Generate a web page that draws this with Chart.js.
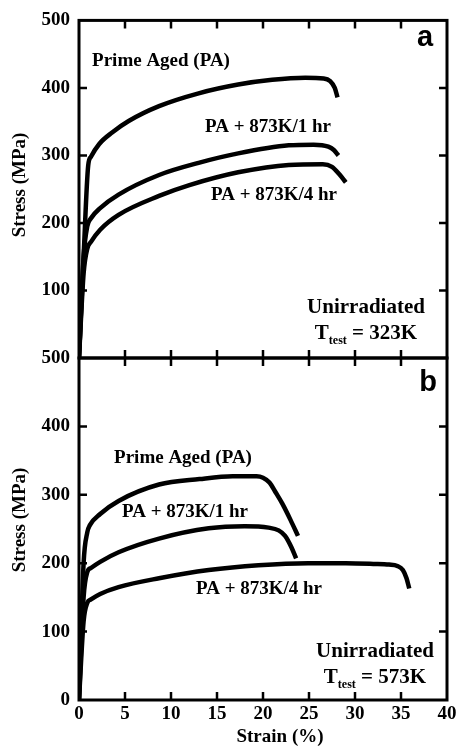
<!DOCTYPE html>
<html>
<head>
<meta charset="utf-8">
<script src="https://cdn.jsdelivr.net/npm/chart.js@4.4.1/dist/chart.umd.min.js"></script>
<style>
  body { margin: 0; background: #fff; }
  #wrap { position: relative; width: 463px; height: 748px; }
  canvas { position: absolute; left: 0; top: 0; }
</style>
</head>
<body>
<div id="wrap">
  <canvas id="chartTop" width="463" height="748"></canvas>
  <canvas id="chartBottom" width="463" height="748"></canvas>
</div>
<script>
// (a) T_test = 323K
const strainA_PA = [0, 0.5, 1.0, 1.3, 2.2, 3.6, 5.4, 8.7, 13.0, 17.3, 21.0, 24.6, 26.6, 27.3, 27.8, 28.1];
const stressA_PA = [0, 150, 285, 298, 317, 334, 351, 373, 392, 405, 412, 415, 414, 410, 400, 386];
const strainA_1h = [0, 0.5, 0.9, 1.3, 2.3, 4.3, 8.7, 13.0, 17.3, 22.8, 25.5, 27.1, 27.7, 28.2];
const stressA_1h = [0, 150, 195, 207, 222, 242, 271, 289, 303, 315, 316, 313, 308, 300];
const strainA_4h = [0, 0.5, 0.9, 1.3, 2.3, 4.3, 8.7, 12.0, 17.3, 22.8, 26.5, 27.5, 28.3, 29.0];
const stressA_4h = [0, 125, 162, 172, 190, 212, 240, 256, 275, 286, 287, 283, 272, 260];

// (b) T_test = 573K
const strainB_PA = [0, 0.5, 0.9, 1.2, 2.3, 4.3, 8.7, 13.1, 16.7, 19.3, 20.0, 20.7, 21.4, 22.1, 23.0, 23.8];
const stressB_PA = [0, 200, 245, 256, 272, 291, 315, 323, 327, 327, 325, 318, 303, 287, 263, 240];
const strainB_1h = [0, 0.5, 0.9, 1.3, 2.3, 4.3, 8.7, 14.1, 18.0, 20.6, 21.7, 22.4, 23.1, 23.6];
const stressB_1h = [0, 150, 187, 193, 202, 216, 236, 251, 254, 252, 248, 240, 223, 207];
const strainB_4h = [0, 0.5, 0.9, 1.3, 2.3, 4.3, 8.7, 14.1, 19.5, 24.9, 29.0, 32.0, 33.7, 34.6, 35.2, 35.6, 35.9];
const stressB_4h = [0, 115, 142, 147, 155, 165, 178, 190, 197, 200, 200, 199, 198, 196, 190, 178, 163];

const strainTicks = [0, 5, 10, 15, 20, 25, 30, 35, 40];
const stressTicks = [0, 100, 200, 300, 400, 500];

const serif = "'Liberation Serif', 'Times New Roman', serif";

function toPoints(xs, ys) {
    return xs.map(function (x, i) { return { x: x, y: ys[i] }; });
}

function curve(xs, ys) {
    return {
        data: toPoints(xs, ys),
        borderColor: '#000',
        borderWidth: 4.5,
        pointRadius: 0,
        cubicInterpolationMode: 'monotone',
        fill: false
    };
}

function drawText(ctx, text, x, y, font, align) {
    ctx.font = font;
    ctx.textAlign = align || 'center';
    ctx.textBaseline = 'middle';
    ctx.fillText(text, x, y);
}

// T_test = ...K, centred on x
function drawTtest(ctx, value, cx, cy) {
    const big = 'bold 21px ' + serif;
    const small = 'bold 12px ' + serif;
    ctx.font = big;
    const wT = ctx.measureText('T').width;
    const wRest = ctx.measureText(' = ' + value).width;
    ctx.font = small;
    const wSub = ctx.measureText('test').width;
    let x = cx - (wT + wSub + wRest) / 2;
    ctx.fillStyle = '#000';
    drawText(ctx, 'T', x, cy, big, 'left');
    x += wT;
    drawText(ctx, 'test', x, cy + 7, small, 'left');
    x += wSub;
    drawText(ctx, ' = ' + value, x, cy, big, 'left');
}

// frame and inward ticks
const framePlugin = {
    id: 'frame',
    afterDraw: function (chart, args, opts) {
        const ctx = chart.ctx;
        const a = chart.chartArea;
        const xs = chart.scales.x;
        const ys = chart.scales.y;
        ctx.save();
        ctx.strokeStyle = '#000';
        ctx.lineWidth = 2.5;
        strainTicks.forEach(function (v) {
            if (v === 0 || v === 40) return;
            const px = xs.getPixelForValue(v);
            ctx.beginPath();
            ctx.moveTo(px, a.top); ctx.lineTo(px, a.top + 8);
            ctx.moveTo(px, a.bottom); ctx.lineTo(px, a.bottom - 8);
            ctx.stroke();
        });
        stressTicks.forEach(function (v) {
            if (v === 0 || v === 500) return;
            const py = ys.getPixelForValue(v);
            ctx.beginPath();
            ctx.moveTo(a.left, py); ctx.lineTo(a.left + 8, py);
            ctx.moveTo(a.right, py); ctx.lineTo(a.right - 8, py);
            ctx.stroke();
        });
        ctx.lineWidth = 3;
        ctx.strokeRect(a.left, a.top, a.right - a.left, a.bottom - a.top);

        ctx.fillStyle = '#000';
        opts.labels.forEach(function (l) {
            drawText(ctx, l[0], l[1], l[2], 'bold 19px ' + serif);
        });
        drawText(ctx, 'Unirradiated', opts.unirr[0], opts.unirr[1], 'bold 21px ' + serif);
        drawTtest(ctx, opts.temp, opts.unirr[0], opts.unirr[1] + 26);
        drawText(ctx, opts.letter[0], opts.letter[1], opts.letter[2], "bold 29px 'Liberation Sans', Arial, sans-serif");

        ctx.save();
        ctx.translate(20, opts.titleY);
        ctx.rotate(-Math.PI / 2);
        drawText(ctx, 'Stress (MPa)', 0, 0, 'bold 19px ' + serif);
        ctx.restore();
        if (opts.xTitle) {
            drawText(ctx, 'Strain (%)', 280, 737, 'bold 19px ' + serif);
        }
        ctx.restore();
    }
};

function makeChart(id, datasets, padding, showX, frameOpts) {
    const ctx = document.getElementById(id).getContext('2d');
    return new Chart(ctx, {
        type: 'line',
        data: { datasets: datasets },
        plugins: [framePlugin],
        options: {
            responsive: false,
            animation: false,
            devicePixelRatio: 1,
            layout: { padding: padding },
            plugins: {
                legend: { display: false },
                tooltip: { enabled: false },
                frame: frameOpts
            },
            scales: {
                x: {
                    type: 'linear',
                    min: 0,
                    max: 40,
                    grid: { display: false, drawTicks: false },
                    border: { display: false },
                    ticks: {
                        display: showX,
                        stepSize: 5,
                        padding: 3,
                        color: '#000',
                        font: { family: serif, size: 19, weight: 'bold' }
                    },
                    afterFit: function (s) { s.height = showX ? 48 : 0; }
                },
                y: {
                    min: 0,
                    max: 500,
                    grid: { display: false, drawTicks: false },
                    border: { display: false },
                    ticks: {
                        stepSize: 100,
                        padding: 9,
                        color: '#000',
                        font: { family: serif, size: 19, weight: 'bold' },
                        callback: function (v) { return (!showX && v === 0) ? '' : v; }
                    },
                    afterFit: function (s) { s.width = 79; }
                }
            }
        }
    });
}

makeChart('chartTop',
    [curve(strainA_PA, stressA_PA), curve(strainA_1h, stressA_1h), curve(strainA_4h, stressA_4h)],
    { left: 0, top: 15, right: 16, bottom: 390 },
    false,
    {
        labels: [['Prime Aged (PA)', 161, 61], ['PA + 873K/1 hr', 268, 127], ['PA + 873K/4 hr', 274, 195]],
        unirr: [366, 308],
        temp: '323K',
        letter: ['a', 425, 38],
        titleY: 185,
        xTitle: false
    });

makeChart('chartBottom',
    [curve(strainB_PA, stressB_PA), curve(strainB_1h, stressB_1h), curve(strainB_4h, stressB_4h)],
    { left: 0, top: 358, right: 16, bottom: 0 },
    true,
    {
        labels: [['Prime Aged (PA)', 183, 458], ['PA + 873K/1 hr', 185, 512], ['PA + 873K/4 hr', 259, 589]],
        unirr: [375, 652],
        temp: '573K',
        letter: ['b', 428, 383],
        titleY: 520,
        xTitle: true
    });
</script>
</body>
</html>
